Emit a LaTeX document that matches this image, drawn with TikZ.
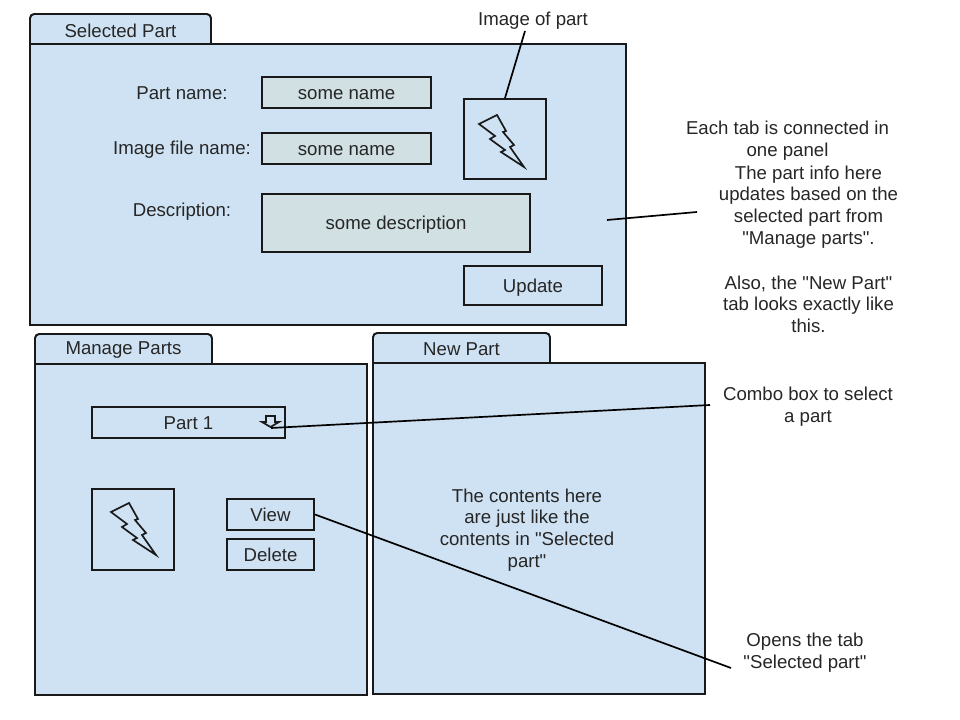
\documentclass[tikz,border=0pt]{standalone}
\usepackage{fontspec}
\setmainfont{Liberation Sans}[Ligatures=TeXOff]
\tikzset{
  panel/.style={draw=black!90, fill=panelblue, line width=1.4pt},
  boxsize/.style 2 args={minimum width=#1*0.025cm, minimum height=#2*0.025cm, inner sep=0pt, text height=11.6pt, text depth=1.8pt, text=black!85},
  field/.style={draw=black!90, fill=fieldgrey, line width=1.4pt},
  outline/.style={draw=black!90, line width=1.4pt},
  leader/.style={black, line width=1.2pt},
  txt/.style={inner sep=0pt, align=center, text=black!85},
  pics/bolt/.style={code={
    \draw[black!90, line width=1.2pt, line join=miter]
      (0,0) -- (18,-9) -- (27,7) -- (24,8) -- (35,21) -- (31,23) -- (45,43)
      -- (22,28) -- (26,26) -- (11,15) -- (16,12) -- cycle;
  }}
}
\definecolor{panelblue}{HTML}{CFE2F3}
\definecolor{fieldgrey}{HTML}{D0E0E3}
\begin{document}
\begin{tikzpicture}[x=0.025cm, y=-0.025cm, font=\fontsize{13.25}{15.4}\selectfont]
  \useasboundingbox (0,0) rectangle (960,720);
  % Top panel
  \draw[panel, rounded corners=3pt] (30,44) -- (30,14) -- (211,14) -- (211,44);
  \node[panel, boxsize={596}{281}] (selectedpanel) at (328,184.5) {};
  \node[txt] (selectedtab) at (120.5,31) {Selected Part};
  \node[txt] (namelabel) at (182,93) {Part name:};
  \node[field, boxsize={169}{31}] (namefield) at (346.5,92.5) {some name};
  \node[txt] (filelabel) at (182,150) {Image file name:};
  \node[field, boxsize={169}{31}] (filefield) at (346.5,148.5) {some name};
  \node[txt] (desclabel) at (182,212) {Description:};
  \node[field, boxsize={268}{58}] (descfield) at (396,223) {some description};
  \node[outline, boxsize={82}{80}] (imagebox) at (505,139) {};
  \pic at (479,124) {bolt};
  \node[outline, boxsize={138}{39}] (updatebtn) at (533,285.5) {Update};
  % Manage panel
  \draw[panel, rounded corners=3pt] (35,364) -- (35,334) -- (212,334) -- (212,364);
  \node[panel, boxsize={332}{331}] (managepanel) at (201,529.5) {};
  \node[txt] (managetab) at (123.5,350.5) {Manage Parts};
  \node[outline, boxsize={193}{31}] (combobox) at (188.5,422.5) {};
  \node[txt] (combotext) at (188.5,423) {Part 1};
  \draw[black!90, line width=1.2pt] (266,416) -- (275,416) -- (275,422) -- (279,422)
    -- (270.5,427) -- (262,422) -- (266,422) -- cycle;
  \coordinate (combotip) at (271,428);
  \node[outline, boxsize={82}{81}] (thumbbox) at (133,529.5) {};
  \pic at (111,512) {bolt};
  \node[outline, boxsize={87}{31}] (viewbtn) at (270.5,514.5) {View};
  \node[outline, boxsize={87}{31}] (deletebtn) at (270.5,554.5) {Delete};
  % New panel
  \draw[panel, rounded corners=3pt] (373,363) -- (373,333) -- (550,333) -- (550,363);
  \node[panel, boxsize={332}{331}] (newpanel) at (539,528.5) {};
  \node[txt] (newtab) at (461.5,349.5) {New Part};
  \node[txt] (newnote) at (527,530) {The contents here\\are just like the\\contents in "Selected\\part"};
  % Notes
  \node[txt] (imagenote) at (533,21) {Image of part};
  \node[txt] (tabnote) at (787.5,141) {Each tab is connected in\\one panel};
  \node[txt] (infonote) at (808.5,207) {The part info here\\updates based on the\\selected part from\\"Manage parts".};
  \node[txt] (newtabnote) at (808.5,304) {Also, the "New Part"\\tab looks exactly like\\this.};
  \node[txt] (combonote) at (808,407) {Combo box to select\\a part};
  \node[txt] (opensnote) at (805,653) {Opens the tab\\"Selected part"};
  % Leaders
  \coordinate (imagefree) at (525,31);
  \coordinate (infoleft) at (607,220);
  \coordinate (inforight) at (697,212);
  \coordinate (combofree) at (710,405);
  \coordinate (opensfree) at (731,668);
  \draw[leader] (imagefree) -- (imagebox.north);
  \draw[leader] (infoleft) -- (inforight);
  \draw[leader] (combotip) -- (combofree);
  \draw[leader] (viewbtn.east) -- (opensfree);
\end{tikzpicture}
\end{document}
